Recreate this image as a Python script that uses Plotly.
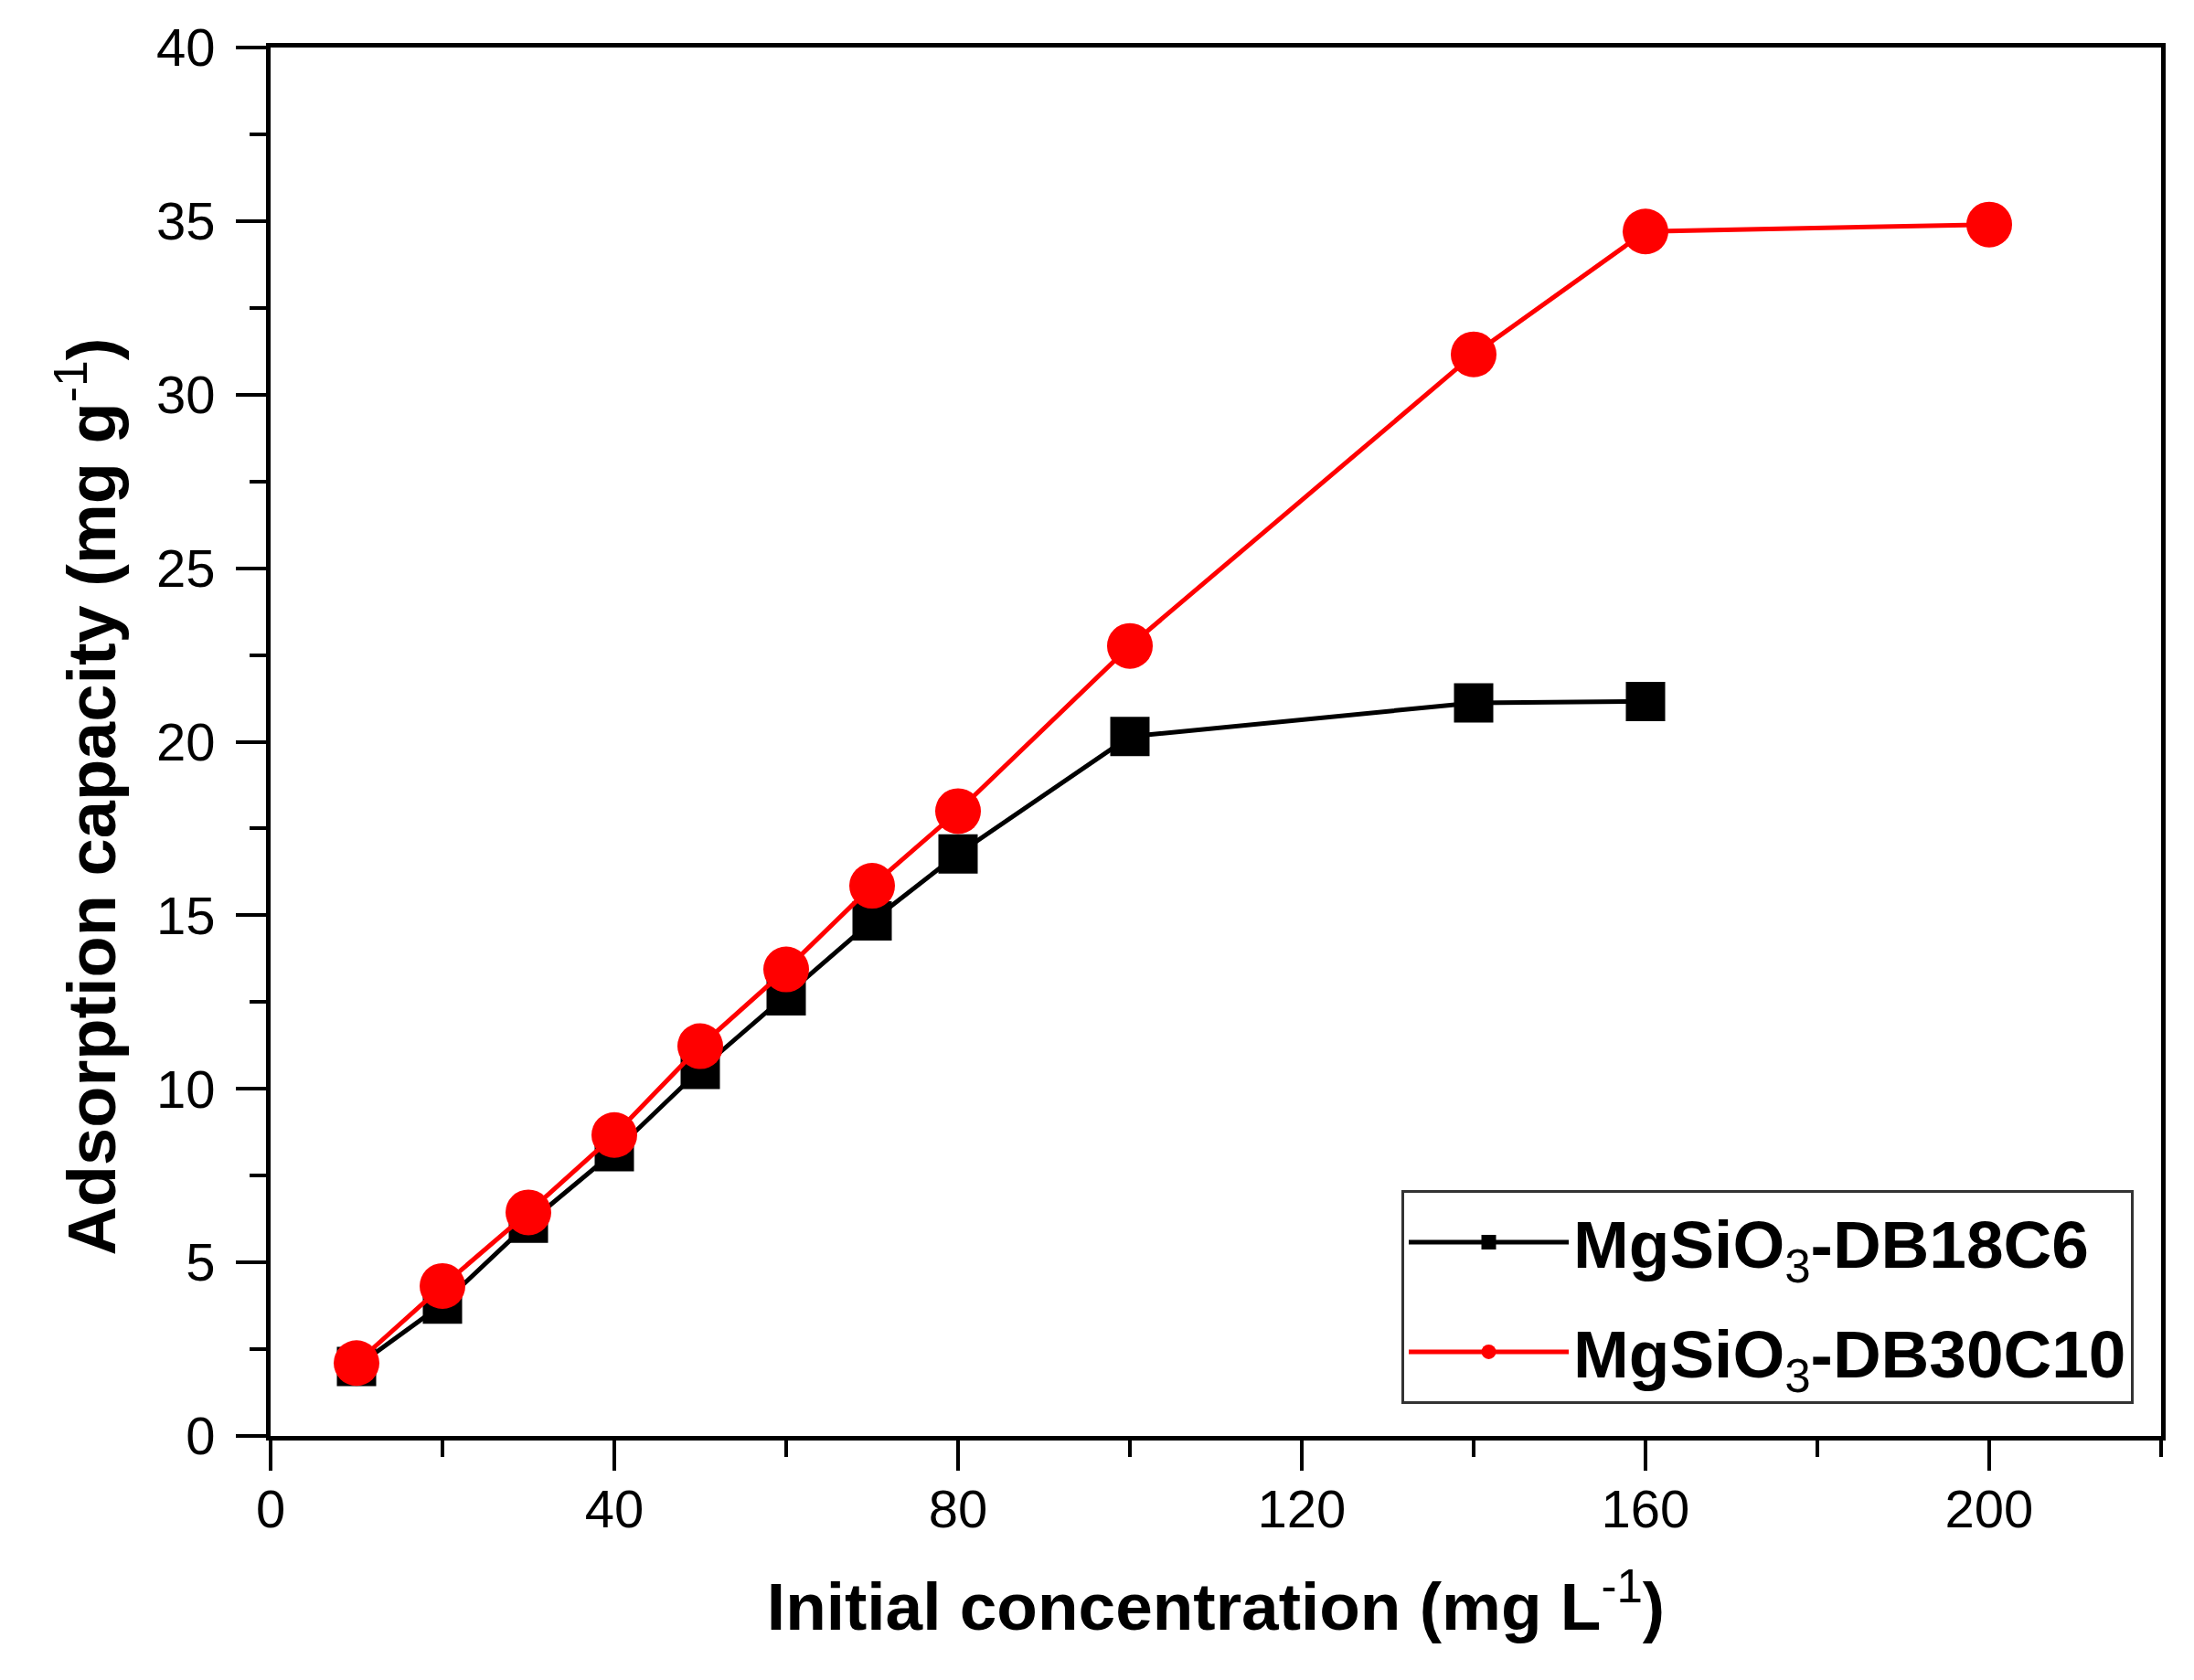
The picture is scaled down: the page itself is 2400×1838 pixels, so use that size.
import plotly.graph_objects as go

# Data
conc_db18c6 = [10, 20, 30, 40, 50, 60, 70, 80, 100, 140, 160]
cap_db18c6 = [2.0, 3.8, 6.13, 8.19, 10.56, 12.68, 14.84, 16.77, 20.15, 21.12, 21.16]

conc_db30c10 = [10, 20, 30, 40, 50, 60, 70, 80, 100, 140, 160, 200]
cap_db30c10 = [2.10, 4.32, 6.44, 8.67, 11.23, 13.44, 15.85, 18.0, 22.76, 31.16, 34.70, 34.90]

name_db18c6 = "<b>MgSiO</b><sub>3</sub><b>-DB18C6</b>"
name_db30c10 = "<b>MgSiO</b><sub>3</sub><b>-DB30C10</b>"

x_title = "<b>Initial concentration (mg L</b><sup>-1</sup><b>)</b>"
y_title = "<b>Adsorption capacity (mg g</b><sup>-1</sup><b>)</b>"

FONT = "Liberation Sans, Arial, sans-serif"

fig = go.Figure()
fig.add_trace(go.Scatter(
    x=conc_db18c6, y=cap_db18c6, name=name_db18c6,
    mode="lines+markers", legendgroup="a",
    line=dict(color="black", width=5),
    marker=dict(symbol="square", size=43, color="black"),
))
fig.add_trace(go.Scatter(
    x=conc_db30c10, y=cap_db30c10, name=name_db30c10,
    mode="lines+markers", legendgroup="b",
    line=dict(color="#ff0000", width=5),
    marker=dict(symbol="circle", size=50, color="#ff0000"),
))

axis_common = dict(
    showline=True, linewidth=5, linecolor="black", mirror=True,
    ticks="outside", ticklen=33, tickwidth=4, tickcolor="black",
    showgrid=False, zeroline=False,
    tickfont=dict(family=FONT, size=58, color="black"),
)

fig.update_xaxes(
    range=[0, 220], tick0=0, dtick=40,
    minor=dict(ticks="outside", dtick=20, ticklen=18, tickwidth=4, tickcolor="black"),
    ticklabelstandoff=-8,
    title=dict(text=x_title, font=dict(family=FONT, size=73, color="black"), standoff=52),
    **axis_common,
)
fig.update_yaxes(
    range=[0, 40], tick0=0, dtick=5,
    minor=dict(ticks="outside", dtick=2.5, ticklen=18, tickwidth=4, tickcolor="black"),
    ticklabelstandoff=11,
    **axis_common,
)

# y-axis title (placed slightly below the axis centre, as in the reference)
fig.add_annotation(
    text=y_title, textangle=-90, showarrow=False,
    xref="paper", yref="paper", x=-0.097, y=0.4607,
    xanchor="center", yanchor="middle",
    font=dict(family=FONT, size=74, color="black"),
)

fig.update_layout(
    width=2400, height=1838,
    margin=dict(l=288, r=44, t=44, b=275, autoexpand=False),
    plot_bgcolor="white", paper_bgcolor="white",
    font=dict(family=FONT, color="black"),
    legend=dict(
        x=0.9855, y=0.023, xanchor="right", yanchor="bottom",
        bgcolor="white", bordercolor="#333333", borderwidth=3,
        font=dict(family=FONT, size=73, color="black"),
        itemsizing="trace", itemwidth=175, tracegroupgap=22,
    ),
    showlegend=True,
)

fig.write_html("out.html")
